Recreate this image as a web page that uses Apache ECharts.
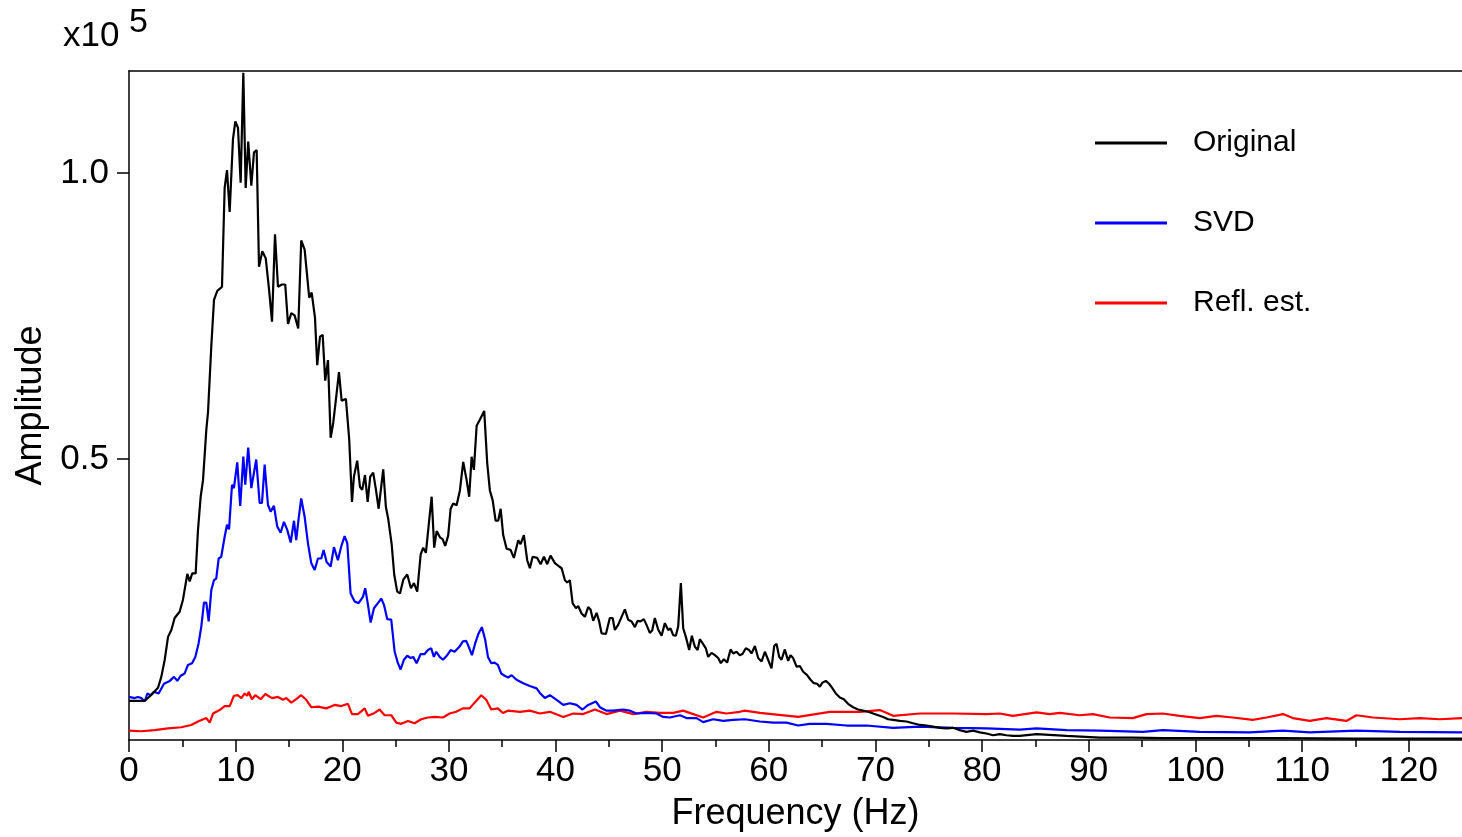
<!DOCTYPE html>
<html>
<head>
<meta charset="utf-8">
<script src="https://cdn.jsdelivr.net/npm/echarts@6/dist/echarts.min.js"></script>
<style>
  html, body { margin: 0; padding: 0; background: #fff; }
  #chart { width: 1462px; height: 837px; }
</style>
</head>
<body>
<div id="chart"></div>
<script>
// Amplitude spectra, [frequency (Hz), amplitude (x10^5)]
const originalData = [
  [0,0.077],[1.47,0.077],[2.06,0.087],[2.72,0.100],[3.03,0.119],[3.35,0.149],[3.66,0.189],[3.97,0.201],
  [4.28,0.222],[4.75,0.233],[5.06,0.254],[5.47,0.299],[5.69,0.286],[5.93,0.300],[6.25,0.300],[6.47,0.376],
  [6.72,0.434],[6.94,0.463],[7.25,0.551],[7.41,0.582],[7.72,0.698],[7.97,0.778],[8.28,0.794],[8.72,0.801],
  [8.97,0.974],[9.19,1.005],[9.44,0.932],[9.75,1.059],[9.97,1.090],[10.22,1.079],[10.47,0.983],[10.72,1.175],
  [10.94,0.974],[11.18,1.055],[11.47,0.978],[11.72,1.036],[11.97,1.040],[12.19,0.836],[12.50,0.863],[12.82,0.851],
  [13.13,0.797],[13.41,0.740],[13.69,0.893],[13.97,0.801],[14.34,0.805],[14.65,0.805],[14.91,0.736],[15.22,0.755],
  [15.53,0.751],[15.87,0.728],[16.15,0.882],[16.47,0.866],[16.66,0.829],[16.90,0.782],[17.13,0.791],[17.44,0.747],
  [17.65,0.664],[17.91,0.714],[18.16,0.717],[18.40,0.637],[18.66,0.673],[18.91,0.537],[19.15,0.563],[19.41,0.605],
  [19.69,0.652],[19.94,0.602],[20.34,0.605],[20.65,0.534],[20.91,0.425],[21.09,0.469],[21.40,0.497],[21.66,0.451],
  [21.87,0.446],[22.13,0.472],[22.38,0.425],[22.62,0.469],[22.90,0.476],[23.16,0.446],[23.41,0.413],[23.84,0.482],
  [24.09,0.416],[24.31,0.395],[24.63,0.351],[24.87,0.298],[25.15,0.268],[25.41,0.265],[25.72,0.289],[26.09,0.298],
  [26.44,0.274],[26.72,0.283],[27.03,0.268],[27.35,0.333],[27.59,0.345],[27.84,0.336],[28.13,0.389],[28.38,0.434],
  [28.62,0.345],[28.85,0.374],[29.16,0.363],[29.41,0.360],[29.65,0.348],[29.93,0.366],[30.16,0.413],[30.40,0.422],
  [30.72,0.419],[31.03,0.445],[31.34,0.495],[31.66,0.463],[31.90,0.434],[32.13,0.504],[32.34,0.481],[32.60,0.558],
  [32.91,0.569],[33.31,0.584],[33.59,0.493],[33.84,0.445],[34.10,0.428],[34.38,0.392],[34.62,0.392],[34.85,0.413],
  [35.09,0.367],[35.41,0.343],[35.78,0.341],[36.09,0.327],[36.50,0.358],[36.72,0.351],[37.03,0.367],[37.34,0.323],
  [37.59,0.309],[37.85,0.329],[38.28,0.327],[38.60,0.316],[38.91,0.329],[39.22,0.316],[39.53,0.331],[39.94,0.318],
  [40.34,0.312],[40.57,0.309],[40.88,0.288],[41.09,0.284],[41.34,0.288],[41.60,0.248],[41.91,0.239],[42.12,0.243],
  [42.44,0.230],[42.75,0.224],[43.06,0.241],[43.28,0.237],[43.53,0.217],[43.85,0.231],[44.09,0.216],[44.32,0.195],
  [44.72,0.194],[45.09,0.222],[45.35,0.222],[45.56,0.201],[45.87,0.210],[46.19,0.224],[46.50,0.237],[46.81,0.219],
  [47.13,0.216],[47.44,0.206],[47.69,0.217],[47.97,0.216],[48.28,0.220],[48.53,0.210],[48.84,0.196],[49.06,0.200],
  [49.31,0.222],[49.62,0.202],[49.94,0.191],[50.25,0.213],[50.56,0.201],[50.78,0.204],[51.03,0.192],[51.28,0.191],
  [51.50,0.207],[51.75,0.283],[51.97,0.204],[52.22,0.189],[52.53,0.166],[52.78,0.191],[53.06,0.172],[53.32,0.166],
  [53.53,0.185],[53.78,0.178],[54.09,0.169],[54.31,0.154],[54.63,0.161],[54.94,0.157],[55.25,0.152],[55.50,0.143],
  [55.78,0.150],[56.09,0.144],[56.41,0.167],[56.65,0.160],[56.97,0.163],[57.28,0.157],[57.53,0.159],[57.84,0.169],
  [58.15,0.166],[58.38,0.160],[58.69,0.173],[59.00,0.152],[59.32,0.146],[59.63,0.163],[59.93,0.149],[60.25,0.134],
  [60.50,0.173],[60.72,0.177],[60.97,0.154],[61.19,0.149],[61.50,0.167],[61.81,0.147],[62.03,0.157],[62.28,0.152],
  [62.60,0.137],[62.91,0.138],[63.22,0.128],[63.59,0.122],[63.91,0.114],[64.22,0.108],[64.53,0.107],[64.78,0.102],
  [65.03,0.109],[65.34,0.112],[65.65,0.107],[65.97,0.099],[66.28,0.090],[66.66,0.083],[67.03,0.080],[67.43,0.072],
  [67.90,0.066],[68.37,0.062],[68.84,0.060],[69.31,0.058],[69.78,0.055],[70.25,0.052],[70.72,0.049],[71.18,0.045],
  [71.65,0.044],[72.28,0.042],[72.91,0.041],[73.53,0.038],[74.16,0.035],[74.78,0.034],[75.40,0.032],[76.03,0.030],
  [76.66,0.029],[77.28,0.030],[77.90,0.026],[78.53,0.023],[79.15,0.025],[79.78,0.022],[80.41,0.020],[81.03,0.017],
  [81.66,0.019],[82.28,0.017],[82.90,0.016],[83.53,0.016],[85.10,0.019],[87.91,0.016],[91.03,0.013],[94.13,0.013],
  [97.0,0.012],[100.0,0.012],[103.0,0.012],[108.0,0.012],[115.0,0.011],[120.0,0.011],[125.0,0.011]
];

const svdData = [
  [0,0.084],[0.53,0.082],[0.84,0.084],[1.15,0.082],[1.47,0.076],[1.72,0.090],[2.03,0.087],[2.34,0.093],
  [2.78,0.090],[3.28,0.107],[3.82,0.112],[4.22,0.119],[4.53,0.112],[4.85,0.121],[5.22,0.125],[5.53,0.140],
  [5.91,0.143],[6.22,0.154],[6.53,0.178],[6.78,0.207],[7.03,0.249],[7.25,0.249],[7.47,0.216],[7.72,0.271],
  [7.97,0.288],[8.18,0.291],[8.41,0.326],[8.65,0.329],[8.97,0.364],[9.19,0.385],[9.38,0.377],[9.66,0.455],
  [9.84,0.449],[10.15,0.494],[10.43,0.418],[10.72,0.504],[10.90,0.455],[11.18,0.520],[11.47,0.449],[11.93,0.499],
  [12.25,0.423],[12.47,0.423],[12.72,0.490],[13.03,0.420],[13.28,0.408],[13.59,0.418],[13.90,0.382],[14.22,0.371],
  [14.53,0.390],[14.84,0.376],[15.16,0.354],[15.47,0.392],[15.68,0.358],[15.91,0.396],[16.15,0.431],[16.47,0.399],
  [16.78,0.353],[17.09,0.318],[17.41,0.306],[17.72,0.326],[18.03,0.326],[18.25,0.341],[18.53,0.320],[18.91,0.312],
  [19.22,0.346],[19.59,0.323],[19.90,0.347],[20.22,0.365],[20.47,0.353],[20.78,0.265],[21.16,0.251],[21.53,0.248],
  [21.94,0.259],[22.15,0.274],[22.41,0.245],[22.66,0.214],[22.97,0.239],[23.34,0.248],[23.65,0.256],[23.91,0.245],
  [24.22,0.220],[24.59,0.219],[24.91,0.163],[25.22,0.143],[25.47,0.132],[25.78,0.149],[26.09,0.156],[26.41,0.152],
  [26.65,0.154],[26.97,0.143],[27.35,0.159],[27.72,0.159],[28.03,0.166],[28.34,0.169],[28.59,0.154],[28.81,0.163],
  [29.13,0.154],[29.44,0.149],[29.84,0.157],[30.16,0.166],[30.53,0.163],[31.00,0.172],[31.31,0.181],[31.62,0.182],
  [31.85,0.172],[32.16,0.157],[32.47,0.178],[32.78,0.195],[33.09,0.206],[33.40,0.184],[33.66,0.154],[33.97,0.143],
  [34.28,0.144],[34.59,0.140],[34.90,0.125],[35.22,0.121],[35.56,0.118],[35.88,0.122],[36.34,0.114],[36.97,0.108],
  [37.59,0.103],[38.22,0.099],[38.53,0.091],[39.00,0.082],[39.47,0.087],[40.10,0.079],[40.72,0.070],[41.34,0.073],
  [41.97,0.070],[42.53,0.062],[43.06,0.070],[43.78,0.076],[44.16,0.066],[44.78,0.060],[45.40,0.060],[46.34,0.062],
  [46.97,0.060],[47.60,0.055],[48.53,0.056],[49.47,0.055],[50.09,0.049],[50.72,0.048],[51.66,0.052],[52.28,0.047],
  [53.22,0.047],[53.84,0.040],[54.78,0.045],[55.72,0.042],[56.65,0.044],[57.75,0.045],[59.16,0.041],[60.40,0.039],
  [61.66,0.039],[62.75,0.034],[63.84,0.037],[65.41,0.037],[67.28,0.034],[69.16,0.034],[71.65,0.030],[74.16,0.032],
  [77.28,0.030],[80.41,0.029],[83.53,0.027],[85.10,0.029],[87.91,0.026],[91.03,0.025],[95.06,0.023],[96.94,0.026],
  [100.41,0.023],[105.09,0.022],[108.19,0.025],[110.72,0.022],[115.10,0.025],[119.16,0.023],[125.0,0.022]
];

const reflData = [
  [0,0.025],[1.15,0.024],[2.41,0.026],[3.66,0.029],[4.90,0.031],[5.84,0.035],[6.47,0.041],[7.25,0.047],
  [7.57,0.039],[7.88,0.055],[8.50,0.061],[8.97,0.068],[9.44,0.068],[9.84,0.086],[10.22,0.087],[10.53,0.082],
  [10.85,0.090],[11.09,0.086],[11.22,0.093],[11.53,0.080],[11.84,0.087],[12.35,0.080],[12.78,0.089],[13.41,0.082],
  [13.97,0.084],[14.44,0.079],[14.75,0.082],[15.22,0.074],[15.68,0.080],[16.15,0.087],[16.62,0.079],[17.09,0.066],
  [17.72,0.067],[18.50,0.064],[19.28,0.070],[19.90,0.068],[20.53,0.072],[20.91,0.054],[21.47,0.054],[22.10,0.064],
  [22.41,0.051],[23.03,0.056],[23.50,0.062],[23.97,0.052],[24.59,0.052],[25.06,0.039],[25.53,0.037],[26.16,0.042],
  [26.78,0.038],[27.40,0.045],[28.03,0.048],[28.66,0.049],[29.44,0.048],[30.07,0.055],[30.68,0.058],[31.31,0.064],
  [31.94,0.064],[32.41,0.074],[33.03,0.087],[33.50,0.079],[33.97,0.062],[34.59,0.064],[35.06,0.056],[35.53,0.060],
  [36.66,0.058],[37.59,0.060],[38.53,0.055],[39.47,0.058],[40.72,0.049],[41.66,0.055],[42.59,0.054],[43.69,0.062],
  [44.78,0.054],[46.03,0.060],[47.28,0.054],[48.53,0.058],[49.78,0.056],[51.03,0.056],[51.97,0.060],[52.91,0.054],
  [53.84,0.048],[55.09,0.058],[56.03,0.055],[57.28,0.058],[57.75,0.060],[59.16,0.056],[62.75,0.049],[65.72,0.058],
  [68.53,0.058],[70.41,0.061],[71.65,0.051],[74.16,0.055],[77.28,0.055],[80.41,0.054],[81.66,0.055],[82.88,0.051],
  [85.10,0.057],[86.34,0.054],[87.28,0.056],[89.16,0.052],[90.38,0.054],[91.97,0.048],[94.13,0.047],[95.41,0.054],
  [96.94,0.055],[98.53,0.051],[100.41,0.047],[101.97,0.051],[103.50,0.048],[105.38,0.044],[106.66,0.048],[108.22,0.054],
  [109.13,0.047],[110.72,0.042],[112.28,0.047],[114.16,0.042],[115.10,0.052],[116.66,0.048],[119.16,0.045],[121.03,0.047],
  [122.91,0.045],[125.0,0.047]
];

const seriesNames = ['Original', 'SVD', 'Refl. est.'];
const seriesColors = ['#000000', '#0000ff', '#ff0000'];
const xMajorTicks = [0, 10, 20, 30, 40, 50, 60, 70, 80, 90, 100, 110, 120];
const xMinorTicks = [5, 15, 25, 35, 45, 55, 65, 75, 85, 95, 105, 115];
const yTicks = [0.5, 1.0];

const FONT = '"Liberation Sans", Arial, Helvetica, sans-serif';
const chart = echarts.init(document.getElementById('chart'), null, { renderer: 'canvas' });

const xRange = { min: 0, max: 125 };
const yRange = { min: 0.0087, max: 1.1783 };

chart.setOption({
  animation: false,
  backgroundColor: '#ffffff',
  grid: { left: 129, right: 0, top: 71, bottom: 97, containLabel: false },
  graphic: [
    { type: 'text', left: 63, top: 19,
      style: { text: 'x10', font: '35px ' + FONT, fill: '#000' } },
    { type: 'text', left: 129, top: 6,
      style: { text: '5', font: '34px ' + FONT, fill: '#000' } }
  ],
  legend: {
    orient: 'vertical',
    left: 1090,
    top: 123,
    itemWidth: 72,
    itemHeight: 30,
    itemGap: 50,
    icon: 'path://M0,14 L72,14 L72,17 L0,17 Z',
    textStyle: { fontFamily: FONT, fontSize: 30, color: '#000', padding: [0, 0, 0, 21] },
    data: seriesNames
  },
  xAxis: [
    {
      type: 'value', position: 'bottom', ...xRange,
      name: 'Frequency (Hz)', nameLocation: 'middle', nameGap: 56,
      nameTextStyle: { fontFamily: FONT, fontSize: 36, color: '#000' },
      axisLine: { show: true, lineStyle: { color: '#000', width: 1.5 } },
      axisTick: { show: true, inside: false, length: 12, customValues: xMajorTicks,
                  lineStyle: { color: '#000', width: 1.5 } },
      axisLabel: { show: true, customValues: xMajorTicks, margin: 14,
                   fontFamily: FONT, fontSize: 35, color: '#000' },
      splitLine: { show: false }
    },
    {
      type: 'value', position: 'bottom', ...xRange,
      axisLine: { show: false },
      axisTick: { show: true, inside: false, length: 7, customValues: xMinorTicks,
                  lineStyle: { color: '#000', width: 1.5 } },
      axisLabel: { show: false },
      splitLine: { show: false }
    },
    {
      type: 'value', position: 'top', ...xRange,
      axisLine: { show: true, lineStyle: { color: '#000', width: 1.5 } },
      axisTick: { show: false },
      axisLabel: { show: false },
      splitLine: { show: false }
    }
  ],
  yAxis: {
    type: 'value', ...yRange,
    name: 'Amplitude', nameLocation: 'middle', nameGap: 78, nameRotate: 90,
    nameTextStyle: { fontFamily: FONT, fontSize: 36, color: '#000' },
    axisLine: { show: true, lineStyle: { color: '#000', width: 1.5 } },
    axisTick: { show: true, inside: false, length: 12, customValues: yTicks,
                lineStyle: { color: '#000', width: 1.5 } },
    axisLabel: { show: true, customValues: yTicks, margin: 20,
                 formatter: v => v.toFixed(1),
                 fontFamily: FONT, fontSize: 35, color: '#000' },
    splitLine: { show: false }
  },
  series: [originalData, svdData, reflData].map((d, i) => ({
    type: 'line',
    name: seriesNames[i],
    data: d,
    xAxisIndex: 0,
    symbol: 'none',
    clip: true,
    lineStyle: { color: seriesColors[i], width: 2.2 },
    itemStyle: { color: seriesColors[i] },
    z: 3 - i
  }))
});
</script>
</body>
</html>
